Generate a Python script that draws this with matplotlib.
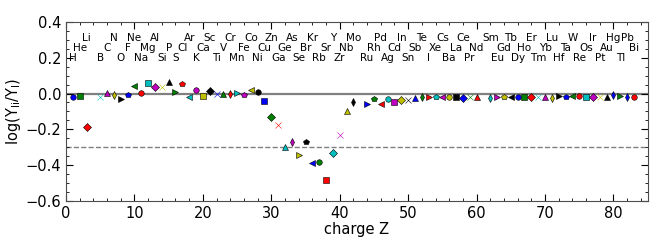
import matplotlib
matplotlib.use("Agg")
import matplotlib.pyplot as plt
from matplotlib.ticker import MultipleLocator

# element symbols and charge Z (Be, Tc, Pm are not in the data)
symbols = ['H', 'He', 'Li', 'B', 'C', 'N', 'O', 'F', 'Ne', 'Na', 'Mg', 'Al', 'Si', 'P',
           'S', 'Cl', 'Ar', 'K', 'Ca', 'Sc', 'Ti', 'V', 'Cr', 'Mn', 'Fe', 'Co', 'Ni', 'Cu',
           'Zn', 'Ga', 'Ge', 'As', 'Se', 'Br', 'Kr', 'Rb', 'Sr', 'Y', 'Zr', 'Nb', 'Mo',
           'Ru', 'Rh', 'Pd', 'Ag', 'Cd', 'In', 'Sn', 'Sb', 'Te', 'I', 'Xe', 'Cs', 'Ba',
           'La', 'Ce', 'Pr', 'Nd', 'Sm', 'Eu', 'Gd', 'Tb', 'Dy', 'Ho', 'Er', 'Tm', 'Yb',
           'Lu', 'Hf', 'Ta', 'W', 'Re', 'Os', 'Ir', 'Pt', 'Au', 'Hg', 'Tl', 'Pb', 'Bi']
charge = [1, 2, 3, 5, 6, 7, 8, 9, 10, 11, 12, 13, 14, 15,
          16, 17, 18, 19, 20, 21, 22, 23, 24, 25, 26, 27, 28, 29,
          30, 31, 32, 33, 34, 35, 36, 37, 38, 39, 40, 41, 42,
          44, 45, 46, 47, 48, 49, 50, 51, 52, 53, 54, 55, 56,
          57, 58, 59, 60, 62, 63, 64, 65, 66, 67, 68, 69, 70,
          71, 72, 73, 74, 75, 76, 77, 78, 79, 80, 81, 82, 83]
log_ratio = [-0.022, -0.014, -0.185, -0.018, 0.004, -0.009, -0.030, -0.009, 0.044, 0.002,
             0.060, 0.038, 0.038, 0.062,
             0.007, 0.051, -0.022, 0.022, -0.013, 0.016, -0.002, -0.003, -0.003, 0.002,
             -0.009, 0.018, 0.007, -0.040,
             -0.130, -0.178, -0.300, -0.270, -0.345, -0.272, -0.388, -0.380, -0.482,
             -0.330, -0.230, -0.098, -0.050,
             -0.056, -0.031, -0.058, -0.031, -0.050, -0.035, -0.035, -0.024, -0.020,
             -0.020, -0.022, -0.022, -0.020,
             -0.020, -0.024, -0.020, -0.020, -0.026, -0.020, -0.020, -0.018, -0.018,
             -0.018, -0.018, -0.018, -0.018,
             -0.025, -0.016, -0.018, -0.015, -0.015, -0.018, -0.018, -0.018, -0.018,
             -0.010, -0.012, -0.018, -0.018]

# style cycles
colors = ['b', 'g', 'r', 'c', 'm', 'y', 'k']
markers = ['o', 's', 'D', 'x', '^', 'd', '>', 'p', '<']
label_levels = [0.20, 0.255, 0.31]

# cycle slot per point (one slot skipped after P, last two reuse earlier styles)
slots = [i + (1 if z >= 16 else 0) for i, z in enumerate(charge)]
slots[-2] = 77
slots[-1] = 72
tiers = [s % 3 for s in slots]
tiers[-2] = 2
tiers[-1] = 1

fig = plt.figure(figsize=(6.64, 2.49), dpi=100)
ax = fig.add_axes([0.0994, 0.193, 0.876, 0.719])

ax.axhline(0.0, color='0.5', lw=1.6, zorder=1)
ax.axhline(-0.3, color='0.5', lw=1.0, ls='--', zorder=1)

for z, v, s in zip(charge, log_ratio, slots):
    c = colors[s % 7]
    m = markers[s % 9]
    ms = 4.5 if m == 'x' else 4
    mec = c if m == 'x' else 'k'
    ax.plot(z, v, marker=m, color=c, mec=mec, mew=0.4, ms=ms, ls='none', zorder=3)

for z, sym, t in zip(charge, symbols, tiers):
    ax.text(z, label_levels[t], sym, ha='center', va='center', fontsize=7.5)

ax.set_xlim(0, 85)
ax.set_ylim(-0.6, 0.4)
ax.xaxis.set_major_locator(MultipleLocator(10))
ax.xaxis.set_minor_locator(MultipleLocator(2))
ax.yaxis.set_major_locator(MultipleLocator(0.2))
ax.yaxis.set_minor_locator(MultipleLocator(0.05))
ax.tick_params(which='both', direction='in', top=True, right=True, labelsize=10.5)
ax.tick_params(which='major', length=5)
ax.tick_params(which='minor', length=2.5)
for sp in ax.spines.values():
    sp.set_color('0.3')

ax.set_xlabel('charge Z', fontsize=10.5, labelpad=1)
ax.set_ylabel(r'log(Y$_{\rm Ii}$/Y$_{\rm I}$)', fontsize=10.5, labelpad=2)

fig.savefig('out.png', dpi=100)
